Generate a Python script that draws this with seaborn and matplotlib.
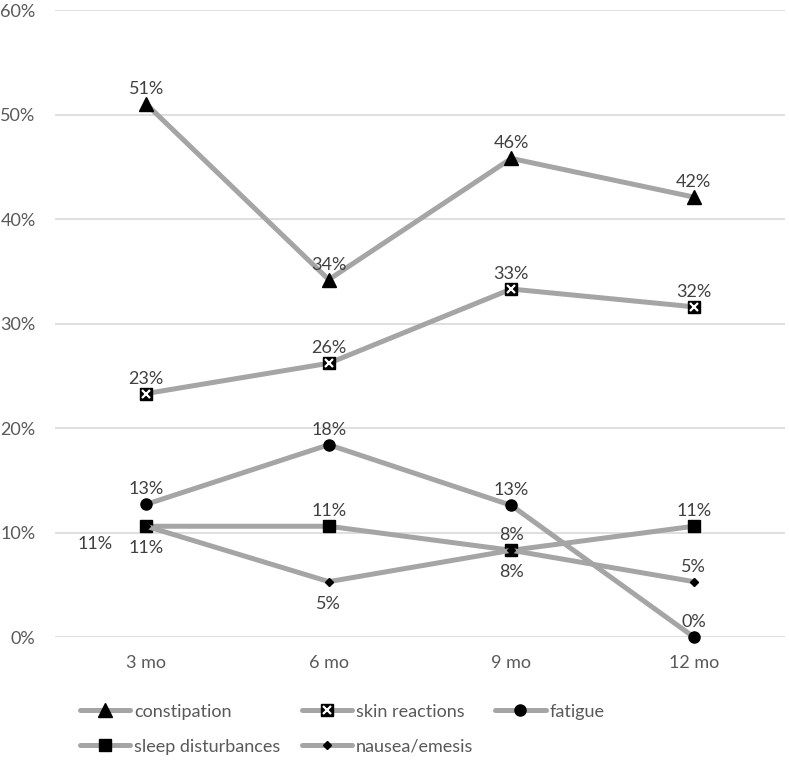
import pandas as pd
import matplotlib
matplotlib.use("Agg")
import matplotlib.pyplot as plt
import seaborn as sns
from matplotlib.legend_handler import HandlerTuple

# Datos
meses = ["3 mo", "6 mo", "9 mo", "12 mo"]
constipation = [0.510, 0.342, 0.458, 0.421]
skin_reactions = [0.233, 0.262, 0.333, 0.316]
fatigue = [0.127, 0.184, 0.126, 0.0]
sleep_disturbances = [0.106, 0.106, 0.083, 0.106]
nausea_emesis = [0.106, 0.053, 0.083, 0.053]

series = {
    "constipation": constipation,
    "skin reactions": skin_reactions,
    "fatigue": fatigue,
    "sleep disturbances": sleep_disturbances,
    "nausea/emesis": nausea_emesis,
}

# posición de las etiquetas de datos
label_pos = {
    "constipation": ["above"] * 4,
    "skin reactions": ["above"] * 4,
    "fatigue": ["above"] * 4,
    "sleep disturbances": ["left", "above", "above", "above"],
    "nausea/emesis": ["below", "below", "below", "above"],
}

rows = []
for nombre, vals in series.items():
    for m, v in zip(meses, vals):
        rows.append({"mes": m, "valor": v, "sintoma": nombre})
df = pd.DataFrame(rows)

sns.set_style("white")
plt.rcParams["font.family"] = ["Lato", "DejaVu Sans"]

GRIS = "#A5A5A5"
TEXTO = "#595959"
FS = 13

fig = plt.figure(figsize=(7.89, 7.6), dpi=100)
ax = fig.add_axes([0.0697, 0.1618, 0.9253, 0.825])

marcadores = {"constipation": "^", "skin reactions": "s", "fatigue": "o",
              "sleep disturbances": "s", "nausea/emesis": "D"}
tamanos = {"constipation": 9.5, "skin reactions": 8, "fatigue": 8,
           "sleep disturbances": 8, "nausea/emesis": 4.5}

sns.lineplot(data=df, x="mes", y="valor", hue="sintoma", style="sintoma",
             hue_order=list(series), style_order=list(series),
             markers=marcadores, dashes=False,
             palette={k: GRIS for k in series}, linewidth=3.6,
             sort=False, ax=ax, legend=False)

lineas = {}
for nombre, ln in zip(series, ax.lines):
    ln.set_markerfacecolor("black")
    ln.set_markeredgecolor("black")
    ln.set_markersize(tamanos[nombre])
    ln.set_markeredgewidth(1.0)
    ln.set_clip_on(False)
    lineas[nombre] = ln

# cruz blanca sobre los cuadrados de "skin reactions"
cruz, = ax.plot(range(len(meses)), skin_reactions, linestyle="none", marker="x",
                color="white", markersize=6, markeredgewidth=1.6, zorder=5)

# etiquetas de datos
for nombre, vals in series.items():
    for i, v in enumerate(vals):
        pos = label_pos[nombre][i]
        if pos == "above":
            off, va = (0, 5), "bottom"
        elif pos == "below":
            off, va = (0, -10), "top"
        else:
            off, va = (-37, -13), "center"
        ax.annotate(f"{v:.0%}", (i, v), xytext=off, textcoords="offset points",
                    ha="center", va=va, fontsize=FS, color="#404040")

ax.set_xlim(-0.5, 3.5)
ax.set_ylim(0, 0.6)
ax.set_yticks([0, 0.1, 0.2, 0.3, 0.4, 0.5, 0.6])
ax.set_yticklabels(["0%", "10%", "20%", "30%", "40%", "50%", "60%"])
ax.set_xlabel("")
ax.set_ylabel("")
ax.yaxis.grid(True, color="#D9D9D9", linewidth=1.2)
ax.set_axisbelow(True)
for s in ax.spines.values():
    s.set_visible(False)
ax.tick_params(axis="y", length=0, pad=14, labelsize=FS, labelcolor=TEXTO)
ax.tick_params(axis="x", length=0, pad=13, labelsize=FS, labelcolor=TEXTO)

# leyenda en dos filas
orden = ["constipation", "sleep disturbances", "skin reactions",
         "nausea/emesis", "fatigue"]
handles = [(lineas[n], cruz) if n == "skin reactions" else lineas[n] for n in orden]
fig.legend(handles, orden, loc="upper left", bbox_to_anchor=(0.101, 0.074),
           ncol=3, frameon=False, fontsize=FS, labelcolor=TEXTO,
           handlelength=2.8, handletextpad=0.2, columnspacing=1.2,
           labelspacing=1.05, borderpad=0, borderaxespad=0,
           handler_map={tuple: HandlerTuple(ndivide=1, pad=0)})

fig.savefig("out.png", dpi=100)
